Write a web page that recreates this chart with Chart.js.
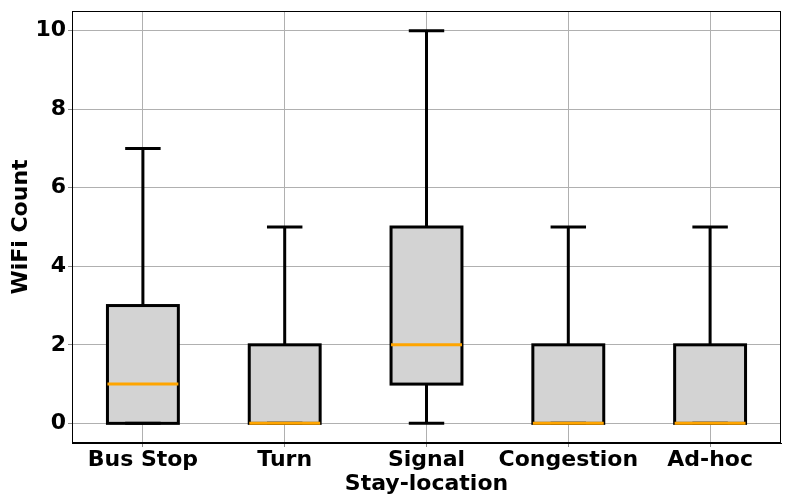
<!DOCTYPE html>
<html>
<head>
<meta charset="utf-8">
<script src="https://cdn.jsdelivr.net/npm/chart.js@4/dist/chart.umd.min.js"></script>
<style>
  html, body { margin: 0; padding: 0; background: #fff; }
  #wrap { width: 792px; height: 504px; }
</style>
</head>
<body>
<div id="wrap"><canvas id="box" width="792" height="504"></canvas></div>
<script>
// --- box plot data ---
const locations = ['Bus Stop', 'Turn', 'Signal', 'Congestion', 'Ad-hoc'];
const mins    = [0, 0, 0, 0, 0];
const q1s     = [0, 0, 1, 0, 0];
const medians = [1, 0, 2, 0, 0];
const q3s     = [3, 2, 5, 2, 2];
const maxs    = [7, 5, 10, 5, 5];
const yTicks  = [0, 2, 4, 6, 8, 10];

const FONT = "'DejaVu Sans', sans-serif";

// box outlines, whiskers, caps and medians drawn on top of the filled bars via the chart scales
const whiskerPlugin = {
    id: 'whiskers',
    afterDatasetsDraw(chart) {
        const { ctx, scales: { x, y } } = chart;
        const meta = chart.getDatasetMeta(0);
        ctx.save();
        locations.forEach((loc, i) => {
            const bar = meta.data[i];
            const cx = x.getPixelForValue(i);
            const half = bar.width / 2;
            const capHalf = half / 2;
            const yTop = y.getPixelForValue(q3s[i]);
            const yBot = y.getPixelForValue(q1s[i]);

            ctx.strokeStyle = '#000';
            ctx.lineWidth = 3;
            ctx.lineCap = 'butt';
            ctx.beginPath();
            // upper whisker
            ctx.moveTo(cx, yTop);
            ctx.lineTo(cx, y.getPixelForValue(maxs[i]));
            // lower whisker
            ctx.moveTo(cx, yBot);
            ctx.lineTo(cx, y.getPixelForValue(mins[i]));
            // caps
            ctx.moveTo(cx - capHalf, y.getPixelForValue(maxs[i]));
            ctx.lineTo(cx + capHalf, y.getPixelForValue(maxs[i]));
            ctx.moveTo(cx - capHalf, y.getPixelForValue(mins[i]));
            ctx.lineTo(cx + capHalf, y.getPixelForValue(mins[i]));
            ctx.stroke();

            // box outline centred on the box edges
            ctx.lineJoin = 'miter';
            ctx.strokeRect(cx - half, yTop, half * 2, yBot - yTop);

            // median
            ctx.strokeStyle = '#ffa500';
            ctx.beginPath();
            ctx.moveTo(cx - half, y.getPixelForValue(medians[i]));
            ctx.lineTo(cx + half, y.getPixelForValue(medians[i]));
            ctx.stroke();
        });
        ctx.restore();
    }
};

// plot frame on all four sides
const framePlugin = {
    id: 'frame',
    afterDraw(chart) {
        const { ctx, chartArea: a } = chart;
        ctx.save();
        ctx.strokeStyle = '#000';
        ctx.lineWidth = 1;
        ctx.strokeRect(a.left + 0.5, a.top + 0.5, a.right - a.left - 1, a.bottom - a.top - 1);
        ctx.restore();
    }
};

new Chart(document.getElementById('box').getContext('2d'), {
    type: 'bar',
    data: {
        labels: locations,
        datasets: [{
            data: q1s.map((q, i) => [q, q3s[i]]),
            backgroundColor: '#d3d3d3',
            borderWidth: 0,
            barPercentage: 0.5,
            categoryPercentage: 1.0
        }]
    },
    options: {
        responsive: false,
        animation: false,
        layout: { padding: { top: 11, right: 11, left: 8, bottom: 7 } },
        plugins: { legend: { display: false }, tooltip: { enabled: false } },
        scales: {
            x: {
                offset: true,
                grid: { color: '#b0b0b0', lineWidth: 1, offset: false, tickLength: 4, tickColor: '#888' },
                border: { color: '#000', width: 1 },
                ticks: { color: '#000', font: { family: FONT, size: 22, weight: 'bold' }, padding: 0,
                         maxRotation: 0, autoSkip: false },
                title: { display: true, text: 'Stay-location', color: '#000',
                         font: { family: FONT, size: 22, weight: 'bold' }, padding: { top: -4, bottom: 0 } },
                afterFit(scale) { scale.height = 54; }
            },
            y: {
                min: -0.5,
                max: 10.5,
                afterBuildTicks(scale) { scale.ticks = yTicks.map(v => ({ value: v })); },
                grid: { color: '#b0b0b0', lineWidth: 1, tickLength: 4, tickColor: '#888' },
                border: { color: '#000', width: 1 },
                ticks: { color: '#000', font: { family: FONT, size: 22, weight: 'bold' }, padding: 2 },
                title: { display: true, text: 'WiFi Count', color: '#000',
                         font: { family: FONT, size: 22, weight: 'bold' }, padding: { top: 0, bottom: 3 } },
                afterFit(scale) {
                    scale.width = 64;
                    scale.paddingTop = 0;
                    scale.paddingBottom = 0;
                }
            }
        }
    },
    plugins: [whiskerPlugin, framePlugin]
});
</script>
</body>
</html>
